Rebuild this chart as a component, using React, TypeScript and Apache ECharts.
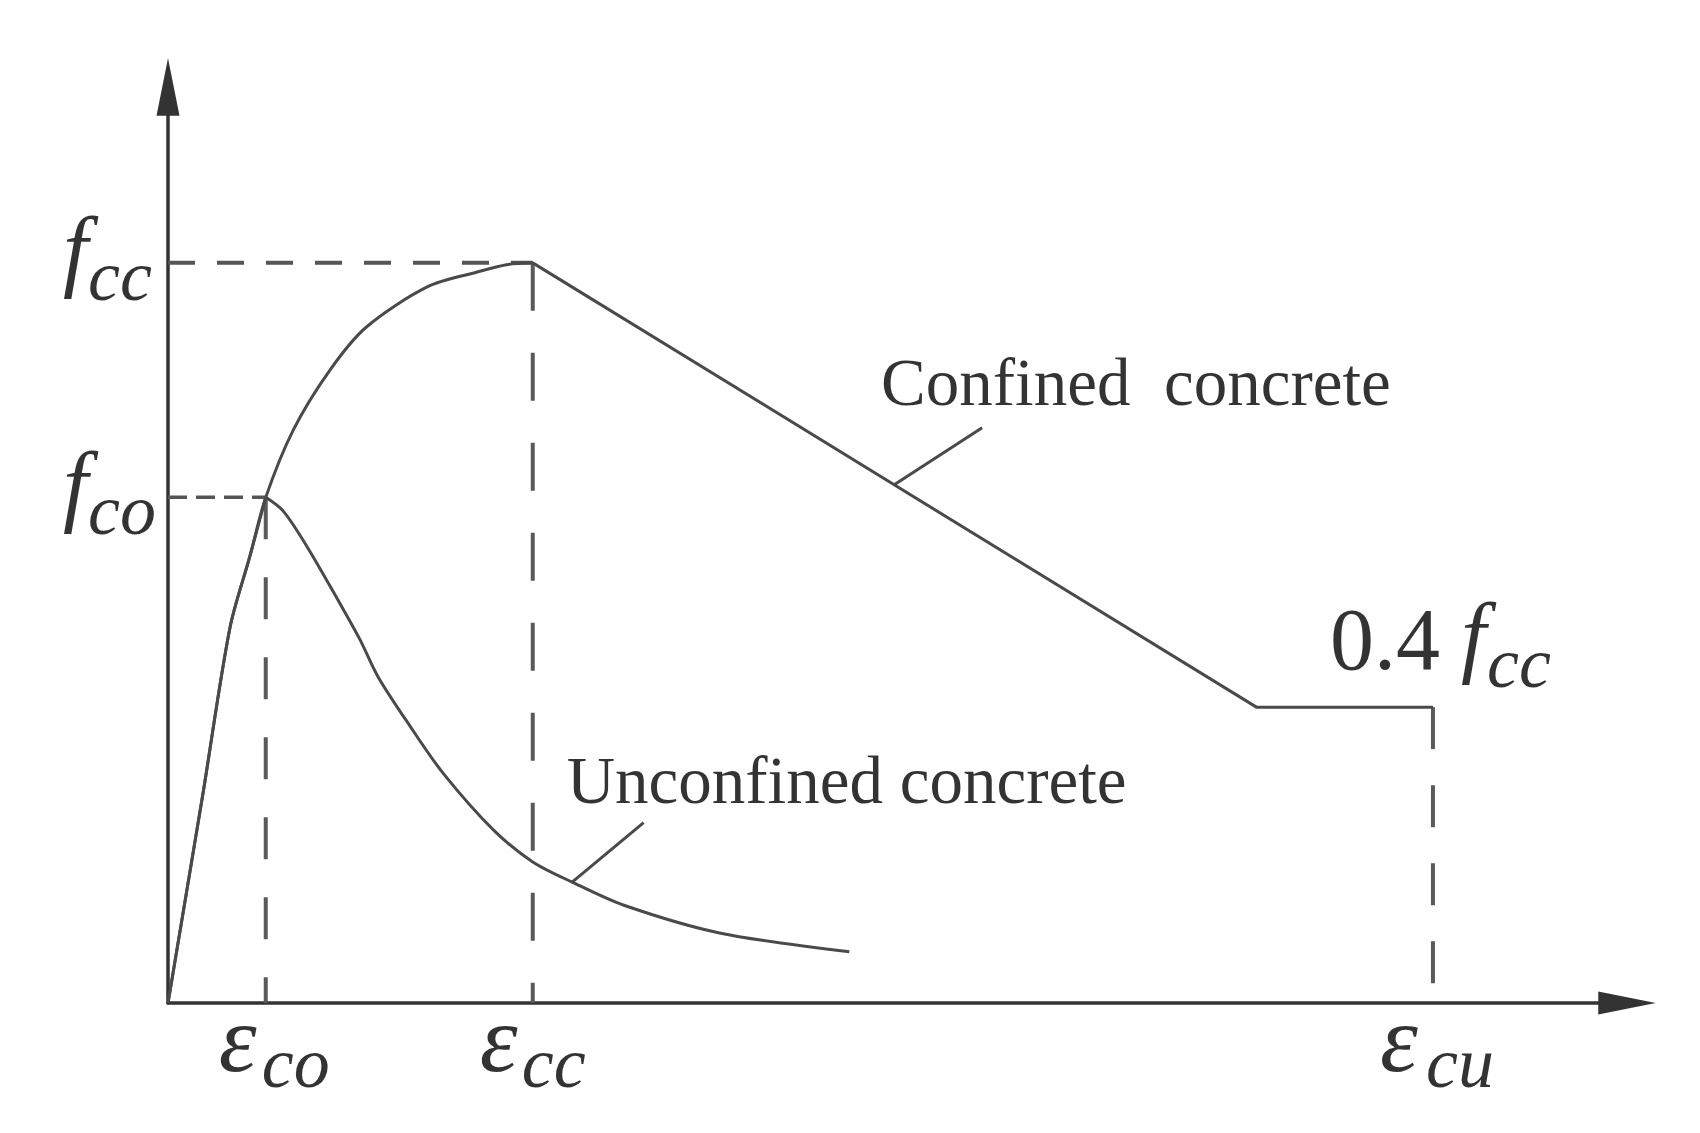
import React, { useEffect, useRef } from 'react';
import * as echarts from 'echarts';

// Characteristic points (normalised strain 0..100, stress 0..100)
const EPS_CO = 6.7;
const EPS_CC = 25.0;
const EPS_CU = 86.7;
const F_CO = 55.2;
const F_CC = 80.8;
const F_RES = 32.3;

// Confined concrete curve
const confinedStrain = [0, 2.4, 4.25, 5.6, 6.7, 8.6, 11.1, 13.6, 17.8, 21.2, 23.2, 25.0, 74.6, 86.7];
const confinedStress = [0, 22.9, 41.0, 48.7, 55.2, 62.6, 69.1, 73.8, 78.2, 79.8, 80.6, 80.8, 32.3, 32.3];

// Unconfined concrete curve
const unconfinedStrain = [0, 2.4, 4.25, 5.6, 6.7, 7.9, 9.5, 11.65, 13.15, 14.4, 16.6, 18.85, 22.3, 25.0, 27.7, 31.2, 37.8, 46.7];
const unconfinedStress = [0, 22.9, 41.0, 48.7, 55.2, 53.7, 49.9, 44.0, 39.7, 35.6, 30.2, 25.1, 18.9, 15.4, 13.2, 10.7, 7.65, 5.6];

// Leader lines from curves to their captions
const confinedLeaderStrain = [49.8, 55.8];
const confinedLeaderStress = [56.6, 62.8];
const unconfinedLeaderStrain = [27.7, 32.6];
const unconfinedLeaderStress = [13.2, 19.7];

// Texts
const CONFINED_TEXT = 'Confined  concrete';
const UNCONFINED_TEXT = 'Unconfined concrete';

const zip = (xs: number[], ys: number[]) => xs.map((x, i) => [x, ys[i]]);

const ARROW = 'path://M0,0 L1,5 L-1,5 Z';
const SERIF = '"Liberation Serif", "Times New Roman", serif';

function lbl(x: number, y: number, text: string, size: number, italic: boolean, dx: number, dy: number) {
  return {
    value: [x, y],
    label: {
      show: true,
      position: 'inside',
      formatter: text,
      align: 'left',
      verticalAlign: 'middle',
      offset: [dx, dy],
      fontSize: size,
      fontStyle: italic ? 'italic' : 'normal',
      fontFamily: SERIF,
      color: '#000',
    },
  };
}

function line(data: number[][], width: number, color: string, type: any = 'solid', smooth: any = false) {
  return {
    type: 'line',
    data,
    symbol: 'none',
    silent: true,
    smooth,
    lineStyle: { width, color, type, cap: 'butt', join: 'round' },
    z: 3,
  };
}

export default function App() {
  const ref = useRef<HTMLDivElement>(null);

  useEffect(() => {
    document.body.style.margin = '0';
    if (!ref.current) return;
    const chart = echarts.init(ref.current, null, { renderer: 'svg' });

    const axisBase = {
      type: 'value',
      min: 0,
      max: 100,
      axisTick: { show: false },
      axisLabel: { show: false },
      splitLine: { show: false },
      axisLine: {
        show: true,
        onZero: true,
        symbol: ['none', ARROW],
        symbolSize: [23, 61],
        lineStyle: { color: '#333', width: 3.5 },
      },
    };

    const SUB = 72;
    const MAIN = 90;
    const EPS = 96;
    const CURVE = '#4a4a4a';

    const confined = zip(confinedStrain, confinedStress);
    const unconfined = zip(unconfinedStrain, unconfinedStress);
    const cPeak = confinedStrain.indexOf(EPS_CC);
    const uPeak = unconfinedStrain.indexOf(EPS_CO);

    const option: any = {
      animation: false,
      backgroundColor: '#ffffff',
      grid: { left: 168, right: 73, top: 87, bottom: 130, containLabel: false },
      xAxis: axisBase,
      yAxis: axisBase,
      tooltip: { show: false },
      series: [
        // dashed reference lines
        line([[0, F_CC], [EPS_CC, F_CC]], 4, '#555', [27, 22]),
        line([[0, F_CO], [EPS_CO, F_CO]], 3.5, '#555', [19, 9]),
        line([[EPS_CO, F_CO], [EPS_CO, 0]], 4, '#5a5a5a', [42, 38]),
        line([[EPS_CC, F_CC], [EPS_CC, 0]], 4, '#5a5a5a', [48, 42]),
        line([[EPS_CU, F_RES], [EPS_CU, 0]], 4, '#5a5a5a', [42, 36]),
        // confined: curved ascending branch, straight descending branch and plateau
        line(confined.slice(0, cPeak + 1), 3, CURVE, 'solid', 0.3),
        line(confined.slice(cPeak), 3, CURVE),
        // unconfined: ascending and softening branches
        line(unconfined.slice(0, uPeak + 1), 3, CURVE, 'solid', 0.3),
        line(unconfined.slice(uPeak), 3, CURVE, 'solid', 0.3),
        // leaders
        line(zip(confinedLeaderStrain, confinedLeaderStress), 3, CURVE),
        line(zip(unconfinedLeaderStrain, unconfinedLeaderStress), 3, CURVE),
        {
          type: 'scatter',
          symbolSize: 1,
          silent: true,
          itemStyle: { color: 'transparent' },
          z: 10,
          data: [
            lbl(0, F_CC, 'f', MAIN, true, -105, -13),
            lbl(0, F_CC, 'cc', SUB, true, -80, 13),
            lbl(0, F_CO, 'f', MAIN, true, -105, -13),
            lbl(0, F_CO, 'co', SUB, true, -80, 13),
            lbl(EPS_CO, 0, 'ε', EPS, true, -47, 35),
            lbl(EPS_CO, 0, 'co', SUB, true, -4, 60),
            lbl(EPS_CC, 0, 'ε', EPS, true, -53, 35),
            lbl(EPS_CC, 0, 'cc', SUB, true, -11, 60),
            lbl(EPS_CU, 0, 'ε', EPS, true, -53, 35),
            lbl(EPS_CU, 0, 'cu', SUB, true, -7, 60),
            lbl(EPS_CU, F_RES, '0.4', 88, false, -103, -68),
            lbl(EPS_CU, F_RES, 'f', MAIN, true, 28, -72),
            lbl(EPS_CU, F_RES, 'cc', SUB, true, 54, -44),
            lbl(confinedLeaderStrain[1], confinedLeaderStress[1], CONFINED_TEXT, 67, false, -101, -46),
            lbl(unconfinedLeaderStrain[1], unconfinedLeaderStress[1], UNCONFINED_TEXT, 67, false, -77, -43),
          ],
        },
      ],
    };

    chart.setOption(option);
    return () => chart.dispose();
  }, []);

  return <div ref={ref} style={{ width: 1700, height: 1133 }} />;
}
